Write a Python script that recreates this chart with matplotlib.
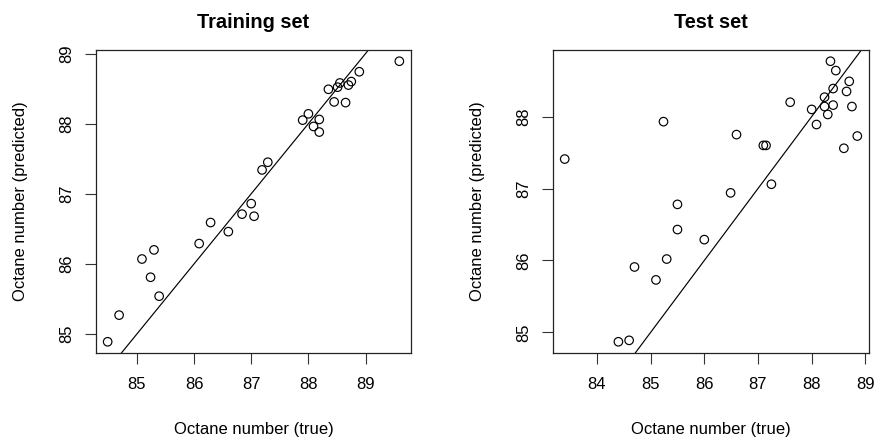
import matplotlib
matplotlib.use("Agg")
import matplotlib.pyplot as plt
import numpy as np

plt.rcParams['font.family'] = ['Liberation Sans', 'DejaVu Sans']

# Training set: true vs predicted octane number
train_true = [84.49, 84.69, 85.09, 85.30, 85.24, 85.39, 86.09, 86.29, 86.60, 86.84,
              87.00, 87.05, 87.19, 87.29, 87.90, 88.00, 88.09, 88.19, 88.19, 88.35,
              88.45, 88.51, 88.55, 88.65, 88.70, 88.75, 88.89, 89.59]
train_pred = [84.89, 85.27, 86.07, 86.20, 85.81, 85.54, 86.29, 86.59, 86.46, 86.71,
              86.86, 86.68, 87.34, 87.45, 88.05, 88.14, 87.96, 88.06, 87.88, 88.49,
              88.31, 88.52, 88.58, 88.30, 88.55, 88.60, 88.74, 88.89]

# Test set: true vs predicted octane number
test_true = [83.40, 85.24, 85.50, 86.60, 85.50, 85.30, 84.70, 85.10, 84.40, 84.60,
             86.00, 86.49, 87.25, 87.10, 87.15, 87.60, 88.00, 88.09, 88.24, 88.24,
             88.30, 88.40, 88.40, 88.35, 88.45, 88.70, 88.65, 88.75, 88.85, 88.60]
test_pred = [87.41, 87.93, 86.78, 87.75, 86.43, 86.02, 85.91, 85.73, 84.87, 84.89,
             86.29, 86.94, 87.06, 87.60, 87.60, 88.20, 88.10, 87.89, 88.27, 88.14,
             88.03, 88.16, 88.39, 88.77, 88.64, 88.49, 88.35, 88.14, 87.73, 87.56]

train_xticks = [85, 86, 87, 88, 89]
train_yticks = [85, 86, 87, 88, 89]
test_xticks = [84, 85, 86, 87, 88, 89]
test_yticks = [85, 86, 87, 88]

titles = ["Training set", "Test set"]
xlabel = "Octane number (true)"
ylabel = "Octane number (predicted)"

W, H = 876, 443
fig = plt.figure(figsize=(W / 100, H / 100), dpi=100)
ax1 = fig.add_axes([96 / W, 1 - 353 / H, 315 / W, 303 / H])
ax2 = fig.add_axes([553 / W, 1 - 353 / H, 316 / W, 303 / H])


def padded(vals, frac=0.04):
    lo, hi = min(vals), max(vals)
    r = hi - lo
    return lo - frac * r, hi + frac * r


panels = [
    (ax1, train_true, train_pred, train_xticks, train_yticks, titles[0]),
    (ax2, test_true, test_pred, test_xticks, test_yticks, titles[1]),
]

for ax, xt, yp, xticks, yticks, title in panels:
    ax.scatter(xt, yp, s=8.5 ** 2 * 0.52, facecolors='none', edgecolors='black',
               linewidths=0.85, zorder=3)
    ax.axline((85, 85), slope=1, color='black', lw=0.85, zorder=2)
    ax.set_xlim(*padded(xt))
    ax.set_ylim(*padded(yp))
    ax.set_xticks(xticks)
    ax.set_yticks(yticks)
    ax.set_yticklabels([str(v) for v in yticks], rotation=90, va='center')
    ax.tick_params(axis='both', length=8, width=0.8, labelsize=12, color='#333333')
    ax.tick_params(axis='x', pad=9)
    ax.tick_params(axis='y', pad=8)
    for sp in ax.spines.values():
        sp.set_linewidth(0.9)
        sp.set_color('#222222')
    ax.set_title(title, fontsize=14.4, fontweight='bold', pad=16)
    ax.set_xlabel(xlabel, fontsize=12)
    ax.set_ylabel(ylabel, fontsize=12)
    ax.xaxis.set_label_coords(0.5, -0.228)
    ax.yaxis.set_label_coords(-0.215, 0.5)

fig.savefig("out.png", dpi=100)
